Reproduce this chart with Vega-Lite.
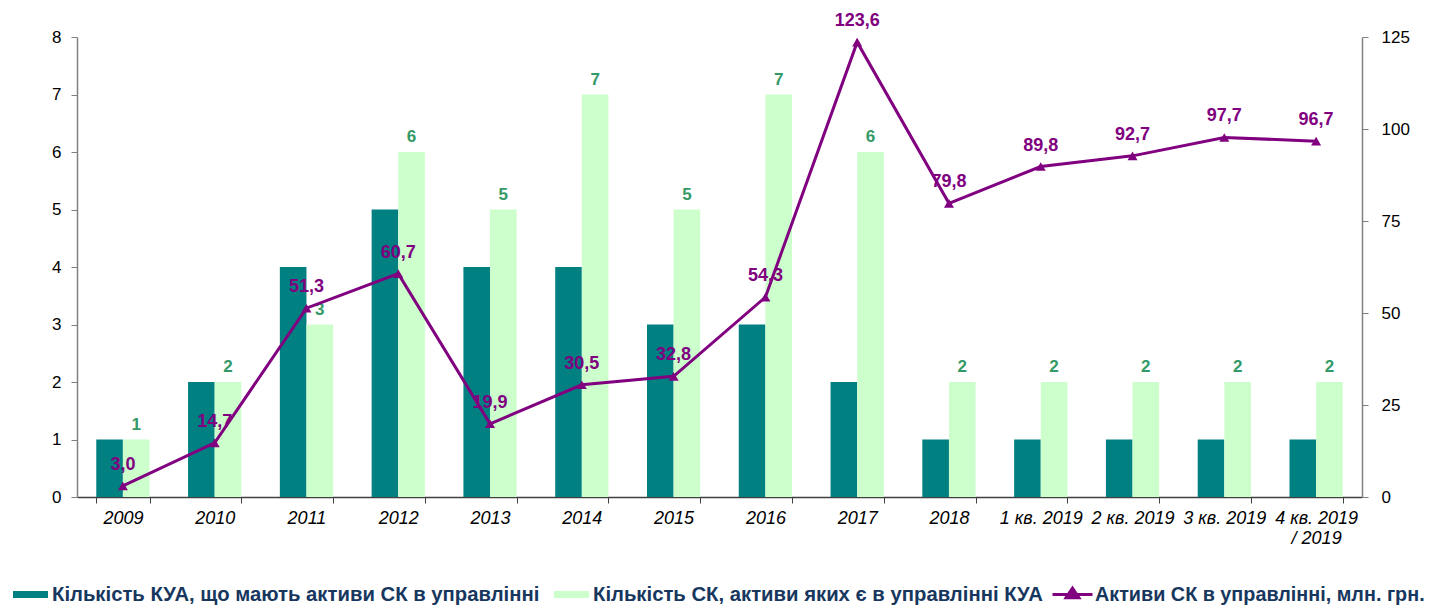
{
  "$schema": "https://vega.github.io/schema/vega-lite/v6.json",
  "width": 1285,
  "height": 460,
  "autosize": {"type": "none"},
  "padding": {"left": 77, "top": 37, "right": 70, "bottom": 110},
  "config": {
    "view": {"stroke": null},
    "locale": {"number": {"decimal": ",", "thousands": " ", "grouping": [3], "currency": ["", ""]}},
    "axis": {"labelFont": "Liberation Sans", "labelFontSize": 17, "labelColor": "#000000", "grid": false, "title": null},
    "legend": {"padding": 0, "labelLimit": 700, "title": null}
  },
  "data": {
    "values": [
      {"cat": "2009", "kua": 1, "sk": 1, "assets": 3.0},
      {"cat": "2010", "kua": 2, "sk": 2, "assets": 14.7},
      {"cat": "2011", "kua": 4, "sk": 3, "assets": 51.3},
      {"cat": "2012", "kua": 5, "sk": 6, "assets": 60.7},
      {"cat": "2013", "kua": 4, "sk": 5, "assets": 19.9},
      {"cat": "2014", "kua": 4, "sk": 7, "assets": 30.5},
      {"cat": "2015", "kua": 3, "sk": 5, "assets": 32.8},
      {"cat": "2016", "kua": 3, "sk": 7, "assets": 54.3},
      {"cat": "2017", "kua": 2, "sk": 6, "assets": 123.6},
      {"cat": "2018", "kua": 1, "sk": 2, "assets": 79.8},
      {"cat": "1 кв. 2019", "kua": 1, "sk": 2, "assets": 89.8},
      {"cat": "2 кв. 2019", "kua": 1, "sk": 2, "assets": 92.7},
      {"cat": "3 кв. 2019", "kua": 1, "sk": 2, "assets": 97.7},
      {"cat": "4 кв. 2019 / 2019", "kua": 1, "sk": 2, "assets": 96.7}
    ]
  },
  "encoding": {
    "x": {
      "field": "cat",
      "type": "nominal",
      "sort": null,
      "scale": {"paddingInner": 0.42, "paddingOuter": 0.21},
      "axis": {
        "labelAngle": 0,
        "tickBand": "extent",
        "labelFontStyle": "italic",
        "labelFontSize": 18,
        "labelOverlap": false,
        "labelPadding": 6,
        "tickSize": 6,
        "tickColor": "#404040",
        "domainColor": "#404040",
        "domainWidth": 1.5,
        "labelExpr": "datum.value == '4 кв. 2019 / 2019' ? ['4 кв. 2019', '/ 2019'] : datum.label"
      }
    }
  },
  "layer": [
    {
      "transform": [{"fold": ["kua", "sk"], "as": ["series", "count"]}],
      "layer": [
        {
          "mark": {"type": "bar"},
          "encoding": {
            "xOffset": {"field": "series", "type": "nominal", "scale": {"domain": ["kua", "sk"], "paddingInner": 0, "paddingOuter": 0}},
            "y": {
              "field": "count",
              "type": "quantitative",
              "scale": {"domain": [0, 8], "nice": false},
              "axis": {"orient": "left", "values": [0, 1, 2, 3, 4, 5, 6, 7, 8], "format": "d", "domainColor": "#808080", "tickColor": "#808080", "domainWidth": 1.5, "tickSize": 6, "labelPadding": 10}
            },
            "color": {
              "field": "series",
              "type": "nominal",
              "scale": {"domain": ["kua", "sk"], "range": ["#008080", "#CCFFCC"]},
              "legend": {
                "orient": "none",
                "legendX": -64,
                "legendY": 540,
                "direction": "horizontal",
                "symbolType": "M-1,-0.2H1V0.2H-1Z",
                "symbolSize": 1225,
                "symbolStrokeWidth": 0,
                "labelFont": "Liberation Sans Narrow, Liberation Sans",
                "labelFontSize": 20.3,
                "labelFontWeight": "bold",
                "labelColor": "#17375E",
                "labelOffset": 4,
                "columnPadding": 14,
                "labelExpr": "datum.value == 'kua' ? 'Кількість КУА, що мають активи СК в управлінні' : 'Кількість СК, активи яких є в управлінні КУА'"
              }
            }
          }
        },
        {
          "transform": [{"filter": "datum.series == 'sk'"}],
          "mark": {"type": "text", "baseline": "alphabetic", "dy": -10, "font": "Liberation Sans", "fontSize": 17, "fontWeight": "bold", "color": "#339966"},
          "encoding": {
            "xOffset": {"field": "series", "type": "nominal"},
            "y": {"field": "count", "type": "quantitative"},
            "text": {"field": "count", "type": "quantitative", "format": "d"}
          }
        }
      ]
    },
    {
      "layer": [
        {
          "mark": {"type": "line", "strokeWidth": 3},
          "encoding": {
            "y": {
              "field": "assets",
              "type": "quantitative",
              "scale": {"domain": [0, 125], "nice": false},
              "axis": {"orient": "right", "values": [0, 25, 50, 75, 100, 125], "format": "d", "domainColor": "#808080", "tickColor": "#808080", "domainWidth": 1.5, "tickSize": 6, "labelPadding": 13}
            },
            "stroke": {
              "datum": "Активи СК в управлінні, млн. грн.",
              "scale": {"range": ["#800080"]},
              "legend": {
                "orient": "none",
                "legendX": 974,
                "legendY": 536,
                "symbolType": "M-1,0H1M-0.32,0.16L0,-0.32L0.32,0.16Z",
                "symbolSize": 1600,
                "symbolStrokeWidth": 3,
                "symbolFillColor": "#800080",
                "labelFont": "Liberation Sans Narrow, Liberation Sans",
                "labelFontSize": 19.8,
                "labelFontWeight": "bold",
                "labelColor": "#17375E",
                "labelOffset": 1
              }
            }
          }
        },
        {
          "mark": {"type": "point", "shape": "triangle-up", "filled": true, "size": 100, "color": "#800080", "opacity": 1},
          "encoding": {"y": {"field": "assets", "type": "quantitative"}}
        },
        {
          "mark": {"type": "text", "baseline": "alphabetic", "dy": -16, "font": "Liberation Sans", "fontSize": 18, "fontWeight": "bold", "color": "#800080"},
          "encoding": {
            "y": {"field": "assets", "type": "quantitative"},
            "text": {"field": "assets", "type": "quantitative", "format": ".1f"}
          }
        }
      ]
    }
  ],
  "resolve": {"scale": {"y": "independent"}}
}
